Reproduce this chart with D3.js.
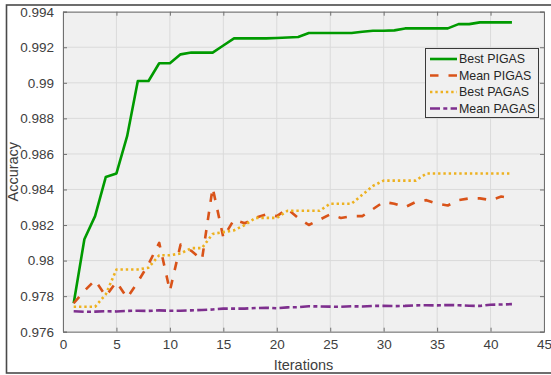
<!DOCTYPE html>
<html><head><meta charset="utf-8">
<script src="https://cdn.jsdelivr.net/npm/d3@7"></script>
<style>body{margin:0;background:#fff}svg{display:block}</style>
</head><body><svg id="c" width="551" height="375"></svg>
<script>
const iterations = [1,2,3,4,5,6,7,8,9,10,11,12,13,14,15,16,17,18,19,20,21,22,23,24,25,26,27,28,29,30,31,32,33,34,35,36,37,38,39,40,41,42];
const bestPIGAS = [0.9776,0.9812,0.9825,0.9847,0.9849,0.9870,0.9901,0.9901,0.9911,0.9911,0.9916,0.9917,0.9917,0.9917,0.9921,0.9925,0.9925,0.9925,0.9925,0.99252,0.99255,0.99258,0.9928,0.9928,0.9928,0.9928,0.9928,0.99287,0.99293,0.99293,0.99295,0.99306,0.99306,0.99306,0.99306,0.99306,0.9933,0.9933,0.9934,0.9934,0.9934,0.9934];
const meanPIGAS = [0.9776,0.9783,0.9789,0.9780,0.9788,0.9779,0.9788,0.9798,0.9810,0.9783,0.9809,0.98055,0.98005,0.9841,0.9813,0.9823,0.9821,0.9824,0.9826,0.9825,0.9829,0.9824,0.9820,0.9823,0.9826,0.9824,0.9825,0.9825,0.9829,0.9833,0.9832,0.9830,0.9833,0.9834,0.9832,0.9831,0.9834,0.9835,0.9835,0.9834,0.9836,0.9835];
const bestPAGAS = [0.9774,0.9774,0.9774,0.9781,0.9795,0.9795,0.9795,0.9796,0.9803,0.9803,0.9804,0.9807,0.9807,0.9815,0.9816,0.9817,0.9820,0.9824,0.9824,0.9824,0.9828,0.9828,0.9828,0.9828,0.9832,0.9832,0.9832,0.9837,0.9842,0.9845,0.9845,0.9845,0.9845,0.9849,0.9849,0.9849,0.9849,0.9849,0.9849,0.9849,0.9849,0.9849];
const meanPAGAS = [0.97715,0.97712,0.97713,0.97715,0.97714,0.97717,0.97718,0.97717,0.9772,0.97718,0.97718,0.9772,0.97722,0.97725,0.9773,0.9773,0.9773,0.97733,0.97735,0.97732,0.97737,0.97738,0.97743,0.97742,0.97741,0.9774,0.97743,0.97742,0.97745,0.97745,0.97744,0.97745,0.97748,0.97749,0.97748,0.9775,0.97749,0.97746,0.97745,0.97752,0.97753,0.97755];
const seriesNames = ["Best PIGAS","Mean PIGAS","Best PAGAS","Mean PAGAS"];
const xTicks = [0,5,10,15,20,25,30,35,40,45];
const yTicks = [0.976,0.978,0.98,0.982,0.984,0.986,0.988,0.99,0.992,0.994];
const yTickLabels = ["0.976","0.978","0.98","0.982","0.984","0.986","0.988","0.99","0.992","0.994"];

const svg = d3.select("#c");
const L = 63, R = 544, T = 11.7, B = 331.7;
const x = d3.scaleLinear().domain([0,45]).range([L,R]);
const y = d3.scaleLinear().domain([0.976,0.994]).range([B,T]);
const font = "'Liberation Sans', Arial, Helvetica, sans-serif";

// outer frame
svg.append("rect").attr("x",6.5).attr("y",5).attr("width",600).attr("height",368)
  .attr("fill","#fff").attr("stroke","#4a4a4a").attr("stroke-width",1.6);

// plot background
svg.append("rect").attr("x",L).attr("y",T).attr("width",R-L).attr("height",B-T).attr("fill","#f0f0f0");

// grid
const g = svg.append("g");
g.selectAll(".vg").data(xTicks).join("line")
  .attr("x1",d=>x(d)).attr("x2",d=>x(d)).attr("y1",T).attr("y2",B)
  .attr("stroke","#dadada").attr("stroke-width",1);
g.selectAll(".hg").data(yTicks).join("line")
  .attr("y1",d=>y(d)).attr("y2",d=>y(d)).attr("x1",L).attr("x2",R)
  .attr("stroke","#dadada").attr("stroke-width",1);

// series
const styles = [
  {data:bestPIGAS, color:"#009a00", dash:null, w:2.6},
  {data:meanPIGAS, color:"#d95319", dash:"8.5,10", w:2.6},
  {data:bestPAGAS, color:"#edb120", dash:"2.4,2.9", w:2.6},
  {data:meanPAGAS, color:"#7e2f8e", dash:"10,3.3,4,3.3", w:2.6}
];
const line = d3.line().x((d,i)=>x(iterations[i])).y(d=>y(d));
styles.forEach(s=>{
  svg.append("path").datum(s.data).attr("d",line)
    .attr("fill","none").attr("stroke",s.color).attr("stroke-width",s.w)
    .attr("stroke-dasharray",s.dash).attr("stroke-linejoin","round");
});

// axes
const axB = svg.append("g").attr("transform",`translate(0,${B})`)
  .call(d3.axisBottom(x).tickValues(xTicks).tickSize(-4).tickPadding(8).tickFormat(d3.format("d")));
const axT = svg.append("g").attr("transform",`translate(0,${T})`)
  .call(d3.axisTop(x).tickValues(xTicks).tickSize(-4).tickFormat(""));
const axL = svg.append("g").attr("transform",`translate(${L},0)`)
  .call(d3.axisLeft(y).tickValues(yTicks).tickSize(-4).tickPadding(9).tickFormat((d,i)=>yTickLabels[i]));
const axR = svg.append("g").attr("transform",`translate(${R},0)`)
  .call(d3.axisRight(y).tickValues(yTicks).tickSize(-4).tickFormat(""));
[axB,axT,axL,axR].forEach(a=>{
  a.select(".domain").attr("stroke","#707070").attr("stroke-width",1);
  a.selectAll(".tick line").attr("stroke","#707070");
  a.selectAll("text").attr("fill","#404040").style("font-family",font).style("font-size","13.5px");
});

// axis titles
svg.append("text").attr("x",(L+R)/2).attr("y",370).attr("text-anchor","middle")
  .attr("fill","#404040").style("font-family",font).style("font-size","14.5px").text("Iterations");
svg.append("text").attr("transform",`translate(18,${(T+B)/2}) rotate(-90)`).attr("text-anchor","middle")
  .attr("fill","#404040").style("font-family",font).style("font-size","14.5px").text("Accuracy");

// legend
const lg = svg.append("g");
lg.append("rect").attr("x",425.5).attr("y",48.5).attr("width",113).attr("height",69)
  .attr("fill","#f0f0f0").attr("stroke","#3a3a3a").attr("stroke-width",1);
const rowY = [59,75.5,92,108.5];
styles.forEach((s,i)=>{
  lg.append("line").attr("x1",430).attr("x2",457).attr("y1",rowY[i]).attr("y2",rowY[i])
    .attr("stroke",s.color).attr("stroke-width",s.w).attr("stroke-dasharray",s.dash);
  lg.append("text").attr("x",459).attr("y",rowY[i]).attr("dy","0.35em")
    .attr("fill","#262626").style("font-family",font).style("font-size","12.4px").text(seriesNames[i]);
});
</script></body></html>
